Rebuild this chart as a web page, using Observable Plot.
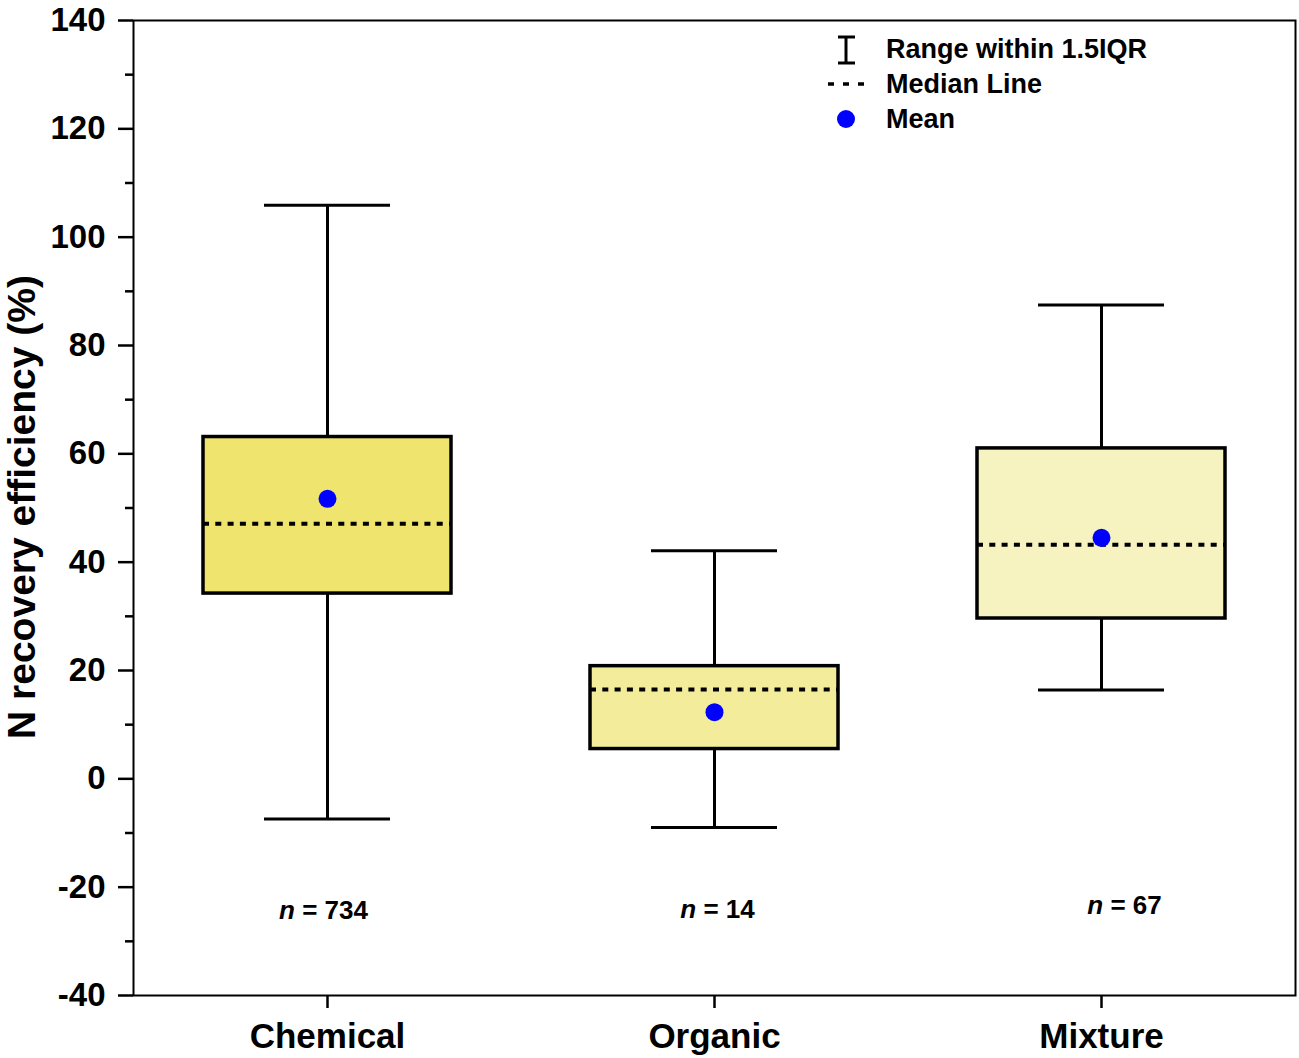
<!DOCTYPE html>
<html>
<head>
<meta charset="utf-8">
<script src="https://cdn.jsdelivr.net/npm/d3@7"></script>
<script src="https://cdn.jsdelivr.net/npm/@observablehq/plot@0.6"></script>
<style>
  html, body { margin: 0; padding: 0; background: #fff; }
  #chart { position: relative; width: 1299px; height: 1058px; }
  svg { font-family: "Liberation Sans", Arial, Helvetica, sans-serif; }
</style>
</head>
<body>
<div id="chart"></div>
<script>
// ---- data ----
const categories = ["Chemical", "Organic", "Mixture"];
const whiskerLow  = [-7.4, -9.0, 16.4];
const q1          = [34.2, 5.5, 29.6];
const median      = [47.1, 16.5, 43.2];
const mean        = [51.7, 12.3, 44.5];
const q3          = [63.1, 20.8, 61.0];
const whiskerHigh = [105.9, 42.1, 87.5];
const counts      = [734, 14, 67];
const countLabelY = [-24.3, -24.1, -23.5];
const boxColors   = ["#EEE46E", "#F3EC9B", "#F7F3C1"];
const majorTicks  = [-40, -20, 0, 20, 40, 60, 80, 100, 120, 140];
const minorTicks  = [-30, -10, 10, 30, 50, 70, 90, 110, 130];

const rows = categories.map((c, i) => ({
  cat: c, lo: whiskerLow[i], q1: q1[i], med: median[i], mean: mean[i],
  q3: q3[i], hi: whiskerHigh[i], n: counts[i], ny: countLabelY[i], color: boxColors[i]
}));

const font = "Liberation Sans, Arial, Helvetica, sans-serif";
const nText = { x: "cat", y: "ny", text: d => "n = " + d.n, fontSize: 26, fontWeight: "bold", fill: "#000" };

const plot = Plot.plot({
  width: 1299,
  height: 1058,
  marginLeft: 133,
  marginRight: 4,
  marginTop: 20,
  marginBottom: 63,
  style: { fontFamily: font, background: "#fff" },
  x: { type: "band", domain: categories, paddingInner: 0.36, paddingOuter: 0.18, label: null },
  y: { domain: [-40, 140], label: null },
  marks: [
    // whiskers
    Plot.ruleX(rows, { x: "cat", y1: "lo", y2: "q1", stroke: "#000", strokeWidth: 3 }),
    Plot.ruleX(rows, { x: "cat", y1: "q3", y2: "hi", stroke: "#000", strokeWidth: 3 }),
    // caps
    Plot.tickY(rows, { x: "cat", y: "lo", stroke: "#000", strokeWidth: 3, insetLeft: 61, insetRight: 61 }),
    Plot.tickY(rows, { x: "cat", y: "hi", stroke: "#000", strokeWidth: 3, insetLeft: 61, insetRight: 61 }),
    // boxes
    Plot.barY(rows, { x: "cat", y1: "q1", y2: "q3", fill: "color", stroke: "#000", strokeWidth: 3.5 }),
    // medians
    Plot.tickY(rows, { x: "cat", y: "med", stroke: "#000", strokeWidth: 4, strokeDasharray: "6,6.3" }),
    // means
    Plot.dot(rows, { x: "cat", y: "mean", r: 9, fill: "#0000FF", stroke: "none" }),
    // n labels
    Plot.text(rows.slice(0, 1), { ...nText, dx: -4 }),
    Plot.text(rows.slice(1, 2), { ...nText, dx: 3 }),
    Plot.text(rows.slice(2), { ...nText, dx: 23 }),
    // axes
    Plot.axisY({ ticks: majorTicks, tickSize: 15, tickPadding: 13, tickFormat: d => d, fontSize: 33, fontWeight: "bold", stroke: "#000", strokeWidth: 2.5, color: "#000" }),
    Plot.axisY({ ticks: minorTicks, tickSize: 8, tickFormat: () => "", stroke: "#000", strokeWidth: 2.5 }),
    Plot.axisX({ tickSize: 13, tickPadding: 15, fontSize: 35, fontWeight: "bold", stroke: "#000", strokeWidth: 2.5, color: "#000" }),
    Plot.frame({ stroke: "#000", strokeWidth: 2 })
  ]
});

document.getElementById("chart").appendChild(plot);

const svg = d3.select(plot);

// italic "n" in the count labels
svg.selectAll("text").each(function () {
  const t = d3.select(this);
  const s = t.text();
  if (/^n = \d+$/.test(s)) {
    const rest = s.slice(1);
    t.text("");
    t.append("tspan").attr("font-style", "italic").text("n");
    t.append("tspan").text(rest);
  }
});

// y-axis title
svg.append("text")
  .attr("transform", "translate(35,507) rotate(-90)")
  .attr("text-anchor", "middle")
  .attr("font-family", font)
  .attr("font-weight", "bold")
  .attr("font-size", 39)
  .attr("fill", "#000")
  .text("N recovery efficiency (%)");

// legend
const lg = svg.append("g").attr("font-family", font).attr("font-weight", "bold")
  .attr("font-size", 27).attr("text-anchor", "start").attr("fill", "#000");
const ib = lg.append("g").attr("stroke", "#000").attr("stroke-width", 3);
ib.append("line").attr("x1", 846).attr("x2", 846).attr("y1", 36).attr("y2", 64);
ib.append("line").attr("x1", 838).attr("x2", 855).attr("y1", 37).attr("y2", 37);
ib.append("line").attr("x1", 838).attr("x2", 855).attr("y1", 63).attr("y2", 63);
lg.append("line").attr("x1", 828).attr("x2", 868).attr("y1", 84).attr("y2", 84)
  .attr("stroke", "#000").attr("stroke-width", 3.5).attr("stroke-dasharray", "6,9");
lg.append("circle").attr("cx", 846).attr("cy", 119).attr("r", 9).attr("fill", "#0000FF");
lg.append("text").attr("x", 886).attr("y", 58).text("Range within 1.5IQR");
lg.append("text").attr("x", 886).attr("y", 93).text("Median Line");
lg.append("text").attr("x", 886).attr("y", 128).text("Mean");
</script>
</body>
</html>
